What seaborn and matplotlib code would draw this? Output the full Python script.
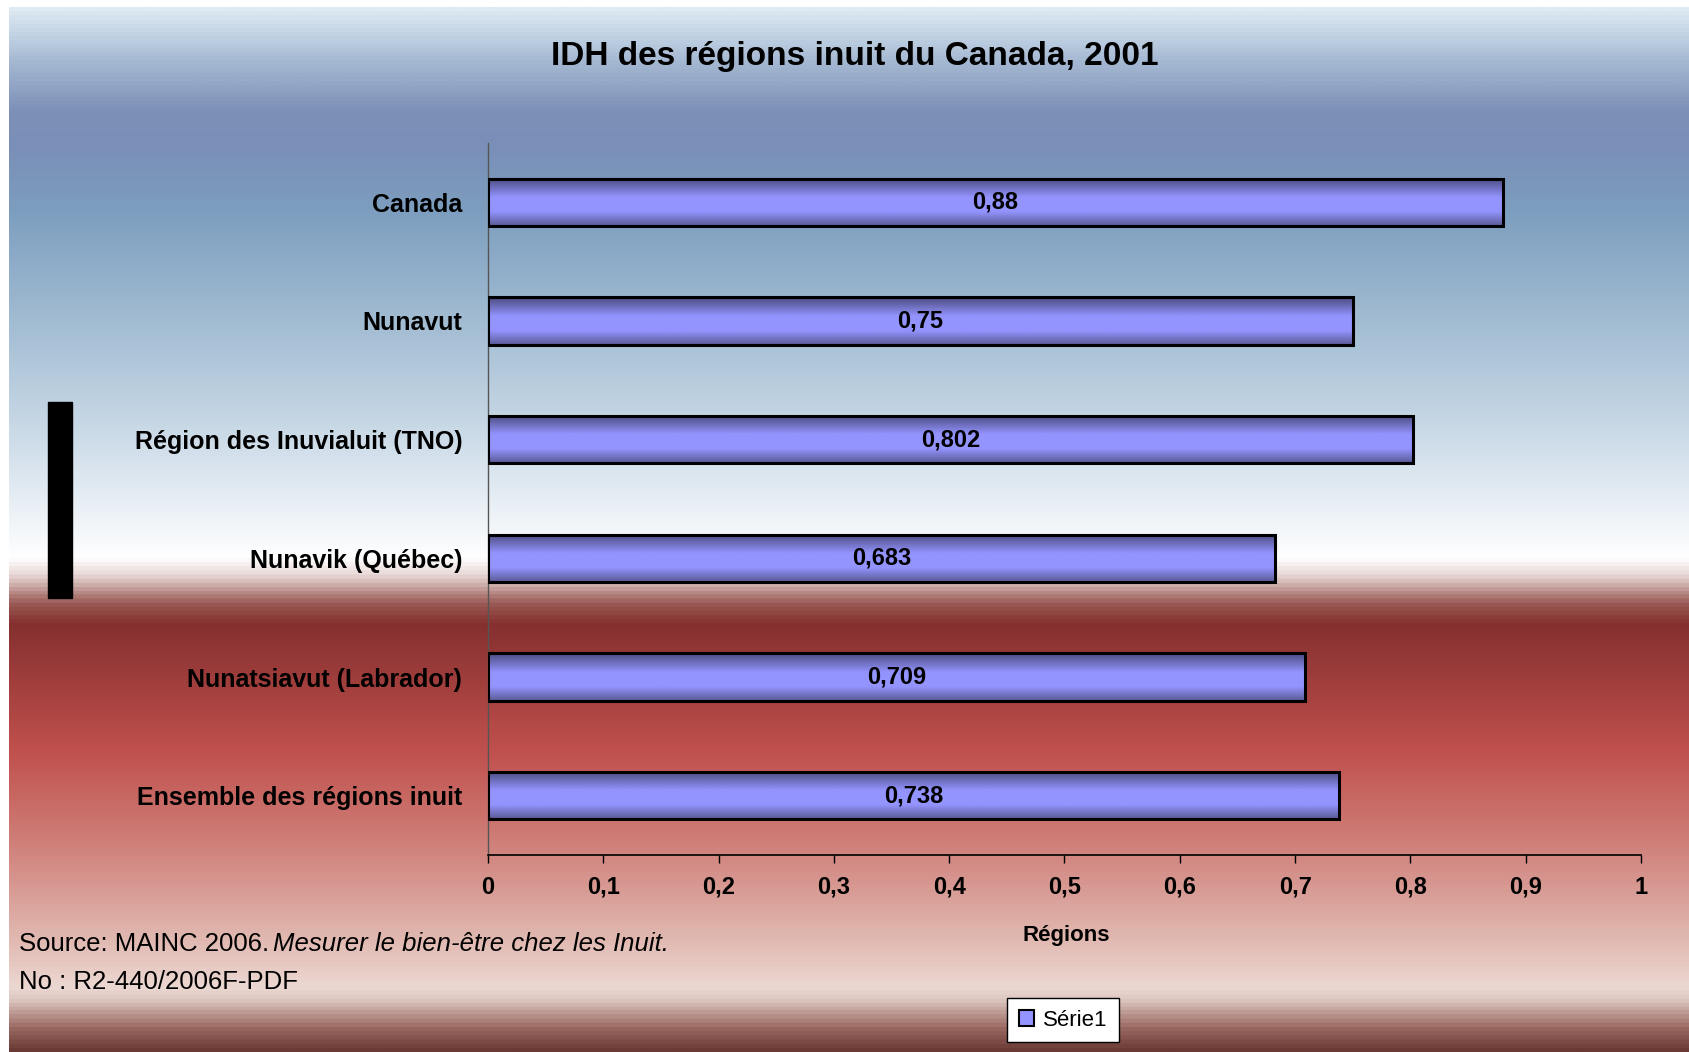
import numpy as np
import pandas as pd
import matplotlib
matplotlib.use("Agg")
import matplotlib.pyplot as plt
import seaborn as sns
from matplotlib.colors import LinearSegmentedColormap
from matplotlib.patches import Patch, Rectangle

# Données
regions = ["Canada", "Nunavut", "Région des Inuvialuit (TNO)", "Nunavik (Québec)",
           "Nunatsiavut (Labrador)", "Ensemble des régions inuit"]
idh = [0.88, 0.75, 0.802, 0.683, 0.709, 0.738]
xticks = [0, 0.1, 0.2, 0.3, 0.4, 0.5, 0.6, 0.7, 0.8, 0.9, 1]
xtick_labels = ["0", "0,1", "0,2", "0,3", "0,4", "0,5", "0,6", "0,7", "0,8", "0,9", "1"]

df = pd.DataFrame({"Région": regions, "IDH": idh})

sns.set_style("white")
plt.rcParams['font.family'] = ['Liberation Sans', 'DejaVu Sans']
plt.rcParams['text.color'] = 'black'

W, H = 1690, 1052
fig = plt.figure(figsize=(W / 100, H / 100), dpi=100)
fig.patch.set_facecolor("white")

# Fond dégradé (bleu -> blanc -> rouge -> brun)
bg = fig.add_axes([9 / W, 0, 1 - 9 / W, 1 - 7 / H], zorder=-10)
stops_y = [7, 14, 60, 110, 150, 210, 336, 436, 537, 558, 575, 604, 624, 752, 846, 940, 990, 1002, 1030, 1052]
stops_c = ["#dfeaf3", "#d6e4ef", "#a4b8d2", "#7c8fb7", "#7a90b8", "#7d9ebf", "#a7c0d5", "#ccdbe8",
           "#f6f9fb", "#ffffff", "#e8d8d6", "#9a5a55", "#85302f", "#c0504d", "#d0807a", "#e0b8b0",
           "#ecd8d2", "#dcc6c0", "#9a6a62", "#6b3a35"]
bg_cmap = LinearSegmentedColormap.from_list(
    "fond", [((y - 7) / (H - 7), c) for y, c in zip(stops_y, stops_c)])
bg.imshow(np.linspace(0, 1, 1000).reshape(-1, 1), cmap=bg_cmap, aspect="auto",
          extent=(0, 1, 0, 1), origin="upper")
bg.axis("off")

# Rectangle noir à gauche
fig.add_artist(Rectangle((48 / W, 1 - 598 / H), 24 / W, 196 / H,
                         transform=fig.transFigure, color="black"))

# Graphique
ax = fig.add_axes([488 / W, 1 - 855 / H, (1641 - 488) / W, (855 - 143) / H])
ax.set_facecolor("none")
sns.barplot(data=df, x="IDH", y="Région", orient="h", width=0.4, color="#9494ff",
            edgecolor="black", linewidth=2.2, ax=ax)

# Dégradé dans les barres
bar_cmap = LinearSegmentedColormap.from_list(
    "barre", [(0, "#4b4b80"), (0.4, "#9494ff"), (0.7, "#9494ff"), (1, "#5a5a96")])
grad = np.linspace(0, 1, 100).reshape(-1, 1)
for p in list(ax.patches):
    x0, y0, w, h = p.get_x(), p.get_y(), p.get_width(), p.get_height()
    im = ax.imshow(grad, cmap=bar_cmap, extent=(x0, x0 + w, y0 + h, y0),
                   aspect="auto", origin="upper", zorder=2)
    im.set_clip_path(p)
    p.set_facecolor("none")
    p.set_zorder(3)

ax.set_xlim(0, 1)
ax.set_ylim(5.5, -0.5)

# Valeurs dans les barres
for i, v in enumerate(idh):
    ax.text(v / 2, i, str(v).replace(".", ","), ha="center", va="center",
            fontweight="bold", fontsize=17, zorder=4)

ax.set_xticks(xticks)
ax.set_xticklabels(xtick_labels, fontweight="bold", fontsize=17)
ax.set_yticks(range(len(regions)))
ax.set_yticklabels(regions, fontweight="bold", fontsize=18)
ax.tick_params(axis="x", direction="out", bottom=True, length=6, width=1, color="black",
               pad=9, labelcolor="black")
ax.tick_params(axis="y", left=False, pad=15, labelcolor="black")
ax.set_xlabel("")
ax.set_ylabel("")

for s in ["top", "right"]:
    ax.spines[s].set_visible(False)
ax.spines["left"].set_color("#555555")
ax.spines["left"].set_linewidth(1)
ax.spines["bottom"].set_color("black")
ax.spines["bottom"].set_linewidth(1.2)

# Titres
fig.text(855 / W, 1 - 57 / H, "IDH des régions inuit du Canada, 2001", ha="center", va="center",
         fontsize=24, fontweight="bold")
fig.text(1066 / W, 1 - 936 / H, "Régions", ha="center", va="center", fontsize=16, fontweight="bold")

# Source
t1 = fig.text(19 / W, 1 - 944 / H, "Source: MAINC 2006.", fontsize=18.5, va="center")
ax.annotate("Mesurer le bien-être chez les Inuit.", xy=(1, 0.5), xycoords=t1,
            xytext=(3, 0), textcoords="offset points", va="center", ha="left",
            fontsize=18.5, fontstyle="italic", annotation_clip=False)
fig.text(19 / W, 1 - 982 / H, "No : R2-440/2006F-PDF", fontsize=18.5, va="center")

# Légende
handle = Patch(facecolor="#9494ff", edgecolor="black", linewidth=1.5)
leg = fig.legend(handles=[handle], labels=["Série1"], loc="center",
                 bbox_to_anchor=(1063 / W, 1 - 1020 / H), frameon=True, fancybox=False,
                 edgecolor="black", facecolor="white", framealpha=1, fontsize=16,
                 handlelength=0.7, handleheight=0.7, handletextpad=0.4, borderpad=0.5)
leg.get_frame().set_linewidth(1)

fig.savefig("out.png", dpi=100)
